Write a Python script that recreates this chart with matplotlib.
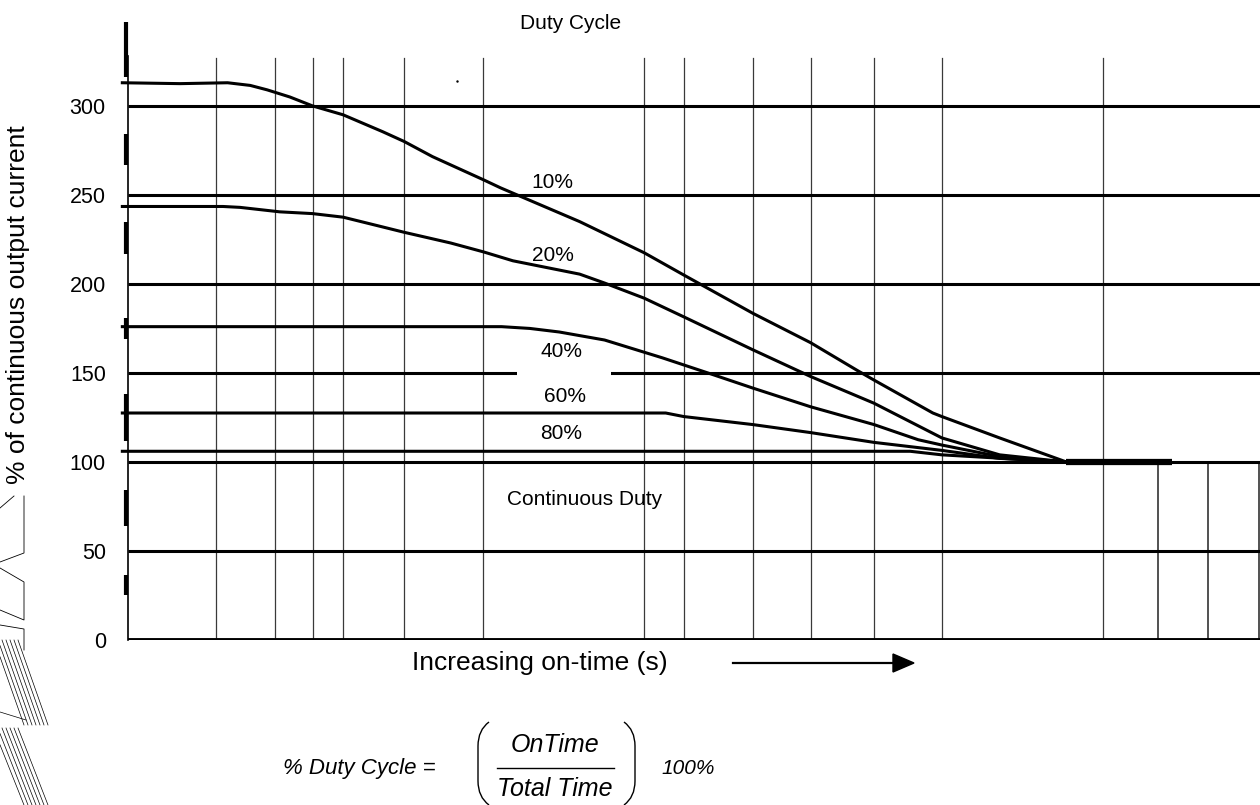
import numpy as np
import matplotlib.pyplot as plt
from matplotlib.path import Path
from matplotlib.patches import PathPatch, Rectangle, Polygon

plt.rcParams['font.family'] = ['Liberation Sans', 'DejaVu Sans']

# --- DATA ---
y_ticks = [0, 50, 100, 150, 200, 250, 300]
grid_full_x = [7.8, 13.0, 16.3, 19.0, 24.4, 31.4, 45.6, 49.1, 55.2, 60.3, 65.9, 71.9, 86.1]
grid_low_x = [91.0, 95.4, 99.9]

duty_labels = ['10%', '20%', '40%', '60%', '80%']

x_10 = [-0.5, 4.6, 8.8, 10.8, 12.3, 14.3, 16.3, 19.0, 22.5, 24.4, 26.9, 31.4, 32.9, 39.9, 45.6, 49.1, 55.2, 60.3, 64.4, 65.9, 71.1, 71.9, 77.0, 82.9]
y_10 = [313, 312.5, 313, 311.5, 309, 305, 300, 295, 285.5, 280, 271.5, 258.5, 254, 235, 217.5, 205, 183.5, 167, 151.5, 146, 127.5, 125.5, 113.5, 100]

x_20 = [-0.5, 8.4, 9.9, 13.4, 16.3, 19.0, 22.5, 24.4, 28.5, 31.4, 34.0, 39.9, 42.1, 45.6, 49.1, 55.2, 60.3, 65.9, 71.9, 77.0, 82.9]
y_20 = [243.5, 243.5, 243, 240.5, 239.5, 237.5, 232, 229, 223, 218, 213, 205.5, 200.5, 192, 181.5, 163, 148, 133, 113.5, 104, 100]

x_40 = [-0.5, 33.0, 35.5, 38.1, 42.1, 47.2, 51.7, 55.2, 60.3, 65.9, 69.8, 71.9, 77.0, 82.9]
y_40 = [176, 176, 175, 173, 168.5, 158.5, 149, 141.5, 131, 121, 112.5, 109.5, 103, 100]

x_60 = [-0.5, 47.5, 49.1, 55.2, 60.3, 65.9, 71.9, 77.0, 82.9]
y_60 = [127.5, 127.5, 125.5, 121, 116.5, 111, 106.5, 102, 100]

x_80 = [-0.5, 69.1, 71.9, 81.4, 82.9]
y_80 = [106, 106, 104, 100.5, 100]

cont_x = [82.9, 92.2]
cont_y = [100, 100]

label_x = [37.5, 37.5, 38.3, 38.6, 38.3]
label_y = [257, 216, 162, 137, 116]

# --- FIGURE ---
W, H = 1260, 805
fig = plt.figure(figsize=(W / 100, H / 100), dpi=100)
ax = fig.add_axes([128 / W, (H - 640) / H, (W - 128) / W, 616 / H])
ax.set_xlim(0, 100)
ax.set_ylim(0, 346)
for s in ax.spines.values():
    s.set_visible(False)
ax.set_xticks([])
ax.set_yticks(y_ticks)
ax.set_yticklabels([str(v) for v in y_ticks], fontsize=15.5)
ax.tick_params(axis='y', length=0, pad=16)


def fx(px):
    return px / W


def fy(py):
    return 1 - py / H


# grid
for gx in grid_full_x:
    ax.plot([gx, gx], [0, 327], color='#3a3a3a', lw=0.9, zorder=1)
for gx in grid_low_x:
    ax.plot([gx, gx], [0, 100], color='#222222', lw=1.1, zorder=1)
for gy in y_ticks[1:]:
    ax.plot([0, 100], [gy, gy], color='black', lw=2.2, zorder=2, solid_capstyle='butt')
ax.plot([0, 100], [0, 0], color='black', lw=2.8, zorder=2, solid_capstyle='butt')

# left axis: thin line plus heavy broken strokes
ax.plot([0, 0], [0, 328], color='black', lw=1.2, zorder=2, clip_on=False)
for y0, y1 in [(316, 347), (267, 284), (217, 235), (169, 181), (112, 138), (64, 84), (25, 36.5)]:
    ax.plot([-0.15, -0.15], [y0, y1], color='black', lw=3.0, zorder=2, clip_on=False, solid_capstyle='butt')

# white patch behind the 40% label
ax.add_patch(Rectangle((34.4, 146), 8.3, 26, facecolor='white', edgecolor='none', zorder=2.5))

# curves
for xs, ys in [(x_10, y_10), (x_20, y_20), (x_40, y_40), (x_60, y_60), (x_80, y_80)]:
    ax.plot(xs, ys, color='black', lw=2.2, zorder=3, clip_on=False, solid_joinstyle='round')
ax.plot(cont_x, cont_y, color='black', lw=4.5, zorder=3, solid_capstyle='butt')

for lab, lx, ly in zip(duty_labels, label_x, label_y):
    ax.text(lx, ly, lab, fontsize=15, ha='center', va='center', zorder=4)

ax.text(40.3, 79, 'Continuous Duty', fontsize=15, ha='center', va='center', zorder=4)
ax.text(39.1, 346, 'Duty Cycle', fontsize=15, ha='center', va='center', clip_on=False)
ax.plot([29.1], [314], marker='.', color='black', markersize=1.5)

# y label
fig.text(fx(18), fy(305), '% of continuous output current', rotation=90,
         fontsize=19, ha='center', va='center')

# x label and arrow
fig.text(fx(540), fy(663), 'Increasing on-time (s)', fontsize=19, ha='center', va='center')
fig.add_artist(plt.Line2D([fx(733), fx(895)], [fy(663), fy(663)], color='black', lw=1.6))
fig.add_artist(Polygon([[fx(893), fy(654)], [fx(914), fy(663)], [fx(893), fy(672)]],
                       closed=True, color='black', transform=fig.transFigure))

# formula
fig.text(fx(436), fy(768), '% Duty Cycle =', fontsize=16, style='italic', ha='right', va='center')
fig.text(fx(555), fy(745), 'OnTime', fontsize=18, style='italic', ha='center', va='center')
fig.text(fx(555), fy(789), 'Total Time', fontsize=18, style='italic', ha='center', va='center')
fig.add_artist(plt.Line2D([fx(497), fx(614)], [fy(768), fy(768)], color='black', lw=1.0))
fig.text(fx(661), fy(768), '100%', fontsize=15, style='italic', ha='left', va='center')


def bracket(x_out, x_in, top, bot):
    verts = [(x_out, top), (x_in, top + 8), (x_in, top + 24), (x_in, bot - 24),
             (x_in, bot - 8), (x_out, bot)]
    codes = [Path.MOVETO, Path.CURVE3, Path.CURVE3, Path.LINETO, Path.CURVE3, Path.CURVE3]
    verts = [(fx(a), fy(b)) for a, b in verts]
    fig.add_artist(PathPatch(Path(verts, codes), fill=False, lw=1.0, edgecolor='black',
                             transform=fig.transFigure))


bracket(489, 478, 722, 805)
bracket(624, 635, 722, 805)

# stray scan marks in the lower-left corner
marks = [
    [(0, 508), (14, 496)],
    [(24, 496), (24, 553), (0, 562)],
    [(0, 568), (24, 582), (24, 620), (0, 610)],
    [(0, 625), (24, 629), (24, 650)],
]
for m in marks:
    xs, ys = zip(*m)
    fig.add_artist(plt.Line2D([fx(v) for v in xs], [fy(v) for v in ys], color='black', lw=0.6))
for k in range(7):
    x0 = -6 + 4 * k
    fig.add_artist(plt.Line2D([fx(max(x0, 0)), fx(x0 + 30)],
                              [fy(640 + (max(x0, 0) - x0) * 2.8), fy(725)], color='black', lw=0.5))
    fig.add_artist(plt.Line2D([fx(max(x0, 0)), fx(x0 + 30)],
                              [fy(728 + (max(x0, 0) - x0) * 2.8), fy(805)], color='black', lw=0.5))
fig.add_artist(plt.Line2D([fx(0), fx(26)], [fy(712), fy(720)], color='black', lw=0.5))

fig.savefig('out.png', dpi=100, facecolor='white')
